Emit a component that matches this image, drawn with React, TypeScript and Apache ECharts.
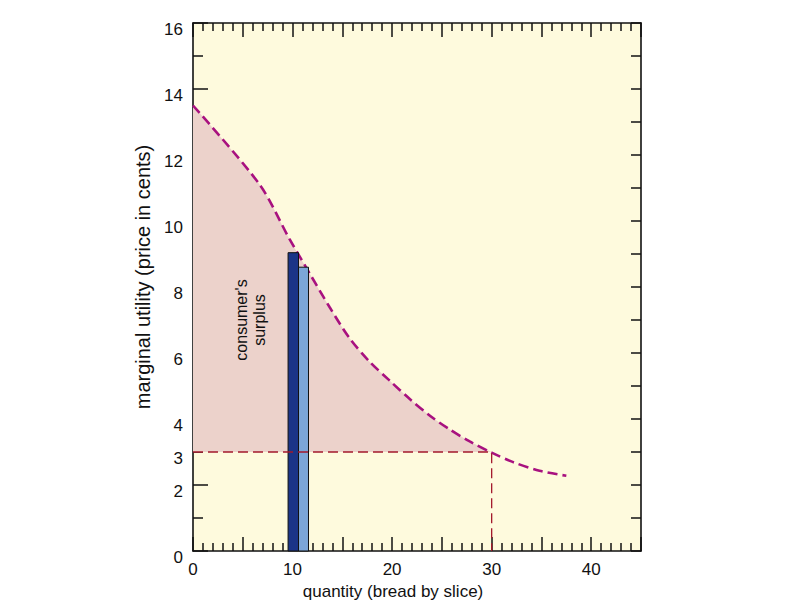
import React, { useEffect, useRef } from "react";
import * as echarts from "echarts";

// demand / marginal utility curve (quantity, cents)
const curveX = [0, 6.7, 9.7, 11.7, 13.7, 15.7, 17.7, 19.8, 21.8, 23.8, 25.8, 27.8, 30, 32.1, 34.8, 37.5];
const curveY = [13.5, 11.1, 9.45, 8.42, 7.4, 6.46, 5.75, 5.15, 4.6, 4.1, 3.68, 3.32, 2.98, 2.7, 2.43, 2.28];

// market price and quantity bought
const price = 3;
const quantityBought = 30;

// the two highlighted slices (start, end, marginal utility)
const barStart = [9.55, 10.6];
const barEnd = [10.6, 11.6];
const barHeight = [9.04, 8.6];

const yLabels = [0, 2, 3, 4, 6, 8, 10, 12, 14, 16];
const xLabels = [0, 10, 20, 30, 40];

const FONT = "Liberation Sans, Arial, Helvetica, sans-serif";

export default function App() {
  const ref = useRef<HTMLDivElement>(null);
  useEffect(() => {
    if (!ref.current) return;
    const chart = echarts.init(ref.current, null, { renderer: "svg" });
    const curve = curveX.map((x, i) => [x, curveY[i]]);
    const fillPts = curve.filter((p) => p[0] <= quantityBought);
    fillPts[fillPts.length - 1] = [quantityBought, price];
    const bars = barStart.map((s, i) => [s, barEnd[i], barHeight[i], i]);
    const barColors = ["#1b3487", "#7ca6d8"];
    const axisLine = { show: true, onZero: false, lineStyle: { color: "#111", width: 1.6 } };
    const tickLine = { color: "#111", width: 1.5 };
    const labelStyle = { fontFamily: FONT, fontSize: 17, color: "#111" };

    chart.setOption({
      animation: false,
      backgroundColor: "#ffffff",
      grid: {
        left: 193,
        right: 159,
        top: 23,
        bottom: 49,
        show: true,
        backgroundColor: "#fefadd",
        borderWidth: 0,
        outerBoundsMode: "none",
      },
      xAxis: [
        {
          type: "value",
          min: 0,
          max: 45,
          interval: 5,
          position: "bottom",
          axisLine,
          splitLine: { show: false },
          axisTick: { show: true, inside: true, length: 14, lineStyle: tickLine },
          minorTick: { show: true, splitNumber: 5, length: 8, lineStyle: tickLine },
          minorSplitLine: { show: false },
          axisLabel: {
            ...labelStyle,
            margin: 10,
            customValues: xLabels,
            formatter: (v: number) => String(v),
          },
          name: "quantity (bread by slice)",
          nameLocation: "middle",
          nameGap: 23,
          nameTextStyle: { fontFamily: FONT, fontSize: 17, color: "#111", padding: [0, 48, 0, 0] },
        },
        {
          type: "value",
          min: 0,
          max: 45,
          interval: 5,
          position: "top",
          axisLine,
          splitLine: { show: false },
          axisTick: { show: true, inside: true, length: 14, lineStyle: tickLine },
          minorTick: { show: true, splitNumber: 5, length: 8, lineStyle: tickLine },
          axisLabel: { show: false },
        },
      ],
      yAxis: [
        {
          type: "value",
          min: 0,
          max: 16,
          interval: 2,
          position: "left",
          axisLine,
          splitLine: { show: false },
          axisTick: { show: true, inside: true, length: 15, lineStyle: tickLine },
          minorTick: { show: true, splitNumber: 2, length: 10, lineStyle: tickLine },
          minorSplitLine: { show: false },
          axisLabel: {
            ...labelStyle,
            margin: 10,
            verticalAlign: "top",
            lineHeight: 12,
            customValues: yLabels,
            formatter: (v: number) => String(v),
          },
          name: "marginal utility (price in cents)",
          nameLocation: "middle",
          nameGap: 34,
          nameTextStyle: { fontFamily: FONT, fontSize: 20, color: "#111", padding: [0, 0, 0, 20] },
        },
        {
          type: "value",
          min: 0,
          max: 16,
          interval: 1,
          position: "right",
          axisLine,
          splitLine: { show: false },
          axisTick: { show: true, inside: true, length: 10, lineStyle: tickLine },
          axisLabel: { show: false },
        },
      ],
      series: [
        {
          name: "surplus",
          type: "line",
          data: fillPts,
          smooth: 0.3,
          showSymbol: false,
          symbol: "none",
          lineStyle: { width: 0, opacity: 0 },
          areaStyle: { origin: price, color: "#ecd2cb", opacity: 1 },
          z: 1,
          silent: true,
        },
        {
          name: "marginal utility",
          type: "line",
          data: curve,
          smooth: 0.3,
          symbol: "none",
          lineStyle: { color: "#a8117f", width: 2.6, type: [10, 5] },
          z: 3,
          silent: true,
        },
        {
          name: "slices",
          type: "custom",
          data: bars,
          z: 4,
          renderItem: (params: any, api: any) => {
            const p0 = api.coord([api.value(0), 0]);
            const p1 = api.coord([api.value(1), api.value(2)]);
            const idx = api.value(3);
            return {
              type: "rect",
              shape: { x: p0[0], y: p1[1], width: p1[0] - p0[0], height: p0[1] - p1[1] },
              style: { fill: barColors[idx], stroke: "#111", lineWidth: 1 },
            };
          },
        },
        {
          name: "price line",
          type: "line",
          data: [
            [0, price],
            [quantityBought, price],
            [quantityBought, 0],
          ],
          symbol: "none",
          lineStyle: { color: "#a3192c", width: 1.3, type: [10, 5] },
          z: 5,
          silent: true,
        },
      ],
      graphic: [
        {
          type: "text",
          x: 250,
          y: 320,
          rotation: Math.PI / 2,
          style: {
            text: "consumer's\nsurplus",
            fontFamily: FONT,
            fontSize: 16,
            fill: "#111",
            align: "center",
            verticalAlign: "middle",
            lineHeight: 18,
          },
          z: 10,
        },
      ],
    });
    return () => chart.dispose();
  }, []);
  return <div ref={ref} style={{ position: "fixed", left: 0, top: 0, width: 800, height: 600 }} />;
}
